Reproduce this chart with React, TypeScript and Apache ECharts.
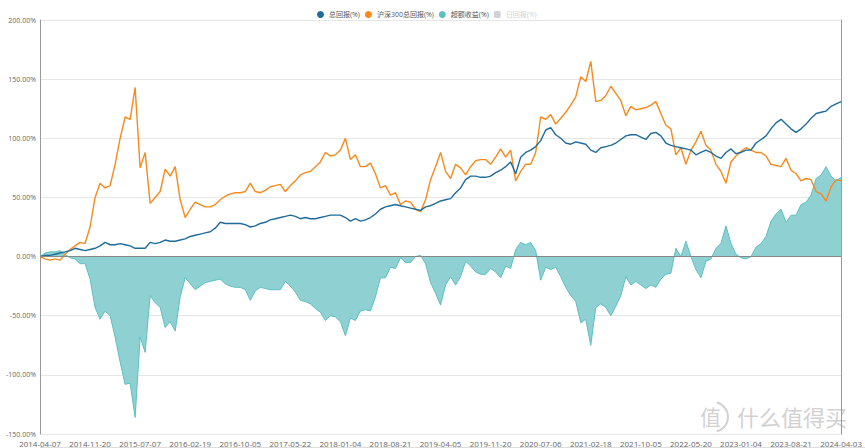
import React, { useEffect, useRef } from 'react';
import * as echarts from 'echarts';

const tickLabels = [
  '2014-04-07', '2014-11-20', '2015-07-07', '2016-02-19', '2016-10-05', '2017-05-22',
  '2018-01-04', '2018-08-21', '2019-04-05', '2019-11-20', '2020-07-06', '2021-02-18',
  '2021-10-05', '2022-05-20', '2023-01-04', '2023-08-21', '2024-04-03',
];

const totalReturn = [
  0, 1, 1, 2, 3, 4, 5, 7, 6, 5,
  6, 7, 9, 12, 10, 10, 11, 10, 9, 7,
  7, 7, 12, 11, 12, 14, 13, 13, 14, 15,
  17, 18, 19, 20, 21, 24, 29, 28, 28, 28,
  28, 27, 25, 26, 28, 29, 31, 32, 33, 34,
  35, 34, 32, 33, 32, 32, 33, 34, 35, 35,
  35, 33, 30, 32, 30, 31, 33, 36, 40, 42,
  43, 44, 43, 42, 41, 40, 39, 42, 43, 45,
  47, 48, 49, 54, 58, 65, 68, 68, 67, 67,
  68, 71, 73, 76, 80, 70, 84, 88, 90, 93,
  98, 107, 109, 103, 100, 96, 95, 97, 96, 95,
  90, 88, 92, 93, 94, 96, 99, 102, 103, 103,
  101, 99, 104, 105, 102, 96, 94, 93, 92, 91,
  90, 86, 88, 90, 88, 85, 83, 88, 91, 87,
  88, 90, 90, 96, 99, 102, 108, 113, 116, 112,
  108, 105, 108, 112, 117, 121, 122, 123, 127, 129,
  131,
];

const csi300Return = [
  0, -2, -3, -2, -3, 2, 6, 9, 12, 11,
  25, 50, 62, 58, 60, 78, 100, 118, 116, 143,
  75, 88, 45, 50, 55, 74, 68, 76, 48, 33,
  40, 46, 44, 42, 42, 44, 48, 51, 53, 54,
  54, 55, 62, 55, 54, 56, 59, 60, 61, 55,
  60, 64, 69, 71, 72, 76, 80, 88, 85, 86,
  90, 100, 82, 86, 76, 76, 79, 70, 58, 60,
  52, 54, 44, 47, 46, 40, 38, 48, 65, 76,
  88, 72, 66, 78, 75, 69, 76, 81, 82, 82,
  78, 84, 91, 84, 90, 64, 72, 78, 78, 88,
  118, 116, 120, 112, 117, 122, 128, 135, 152, 148,
  165, 131, 132, 136, 144, 138, 132, 119, 127, 124,
  125, 126, 128, 131, 121, 111, 108, 86, 92, 78,
  90, 97, 106, 94, 90, 78, 72, 62, 80, 85,
  89, 92, 90, 88, 88, 85, 78, 77, 76, 83,
  73, 70, 64, 66, 65, 55, 53, 47, 59, 65,
  64,
];

const excessReturn = [
  0, 3, 4, 4, 5, 2, -1, -2, -6, -6,
  -19, -43, -53, -46, -50, -68, -89, -108, -107, -136,
  -68, -81, -33, -39, -43, -60, -55, -63, -34, -18,
  -23, -28, -25, -22, -21, -20, -19, -23, -25, -26,
  -26, -28, -37, -29, -26, -27, -28, -28, -28, -21,
  -25, -30, -37, -38, -40, -44, -47, -54, -50, -51,
  -55, -67, -52, -54, -46, -45, -46, -34, -18, -18,
  -9, -10, -1, -5, -5, 0, 1, -6, -22, -31,
  -41, -24, -17, -24, -17, -4, -8, -13, -15, -15,
  -10, -13, -18, -8, -10, 6, 12, 10, 12, 5,
  -20, -9, -11, -9, -17, -26, -33, -38, -56, -53,
  -75, -43, -40, -43, -50, -42, -33, -17, -24, -21,
  -24, -27, -24, -26, -19, -15, -14, 7, 0, 13,
  0, -11, -18, -4, -2, 7, 11, 26, 11, 2,
  -1, -2, 0, 8, 11, 17, 30, 36, 40, 29,
  35, 35, 44, 46, 52, 66, 69, 76, 68, 64,
  67,
];

const dailyReturn: number[] = [];

const seriesNames = ['总回报(%)', '沪深300总回报(%)', '超额收益(%)', '日回报(%)'];

function buildDates(): string[] {
  const out: string[] = [];
  const steps = 10;
  for (let k = 0; k < tickLabels.length - 1; k++) {
    const a = Date.parse(tickLabels[k]);
    const b = Date.parse(tickLabels[k + 1]);
    for (let j = 0; j < steps; j++) {
      if (j === 0) out.push(tickLabels[k]);
      else out.push(new Date(a + ((b - a) * j) / steps).toISOString().slice(0, 10));
    }
  }
  out.push(tickLabels[tickLabels.length - 1]);
  return out;
}

const FONT = '"Open Sans", "Noto Sans CJK SC", sans-serif';

export default function App() {
  const ref = useRef<HTMLDivElement>(null);
  useEffect(() => {
    const chart = echarts.init(ref.current!, null, { renderer: 'svg' });
    const dates = buildDates();
    chart.setOption({
      animation: false,
      backgroundColor: '#ffffff',
      textStyle: { fontFamily: FONT },
      legend: {
        top: 6,
        left: 312,
        itemWidth: 7,
        itemHeight: 7,
        itemGap: 5,
        textStyle: { fontSize: 7, color: '#555', fontFamily: FONT },
        data: [
          { name: seriesNames[0], icon: 'circle' },
          { name: seriesNames[1], icon: 'circle' },
          { name: seriesNames[2], icon: 'circle' },
          { name: seriesNames[3], icon: 'roundRect' },
        ],
        selected: { [seriesNames[3]]: false },
      },
      grid: { left: 40, right: 20, top: 20, bottom: 14, containLabel: false },
      xAxis: {
        type: 'category',
        boundaryGap: false,
        data: dates,
        axisLine: { show: false },
        axisTick: { show: false },
        splitLine: { show: false },
        axisLabel: { interval: 9, fontSize: 8, color: '#666', margin: 5, fontFamily: FONT },
      },
      yAxis: [
        {
          type: 'value',
          min: -150,
          max: 200,
          interval: 50,
          axisLine: { show: true, lineStyle: { color: '#999' } },
          axisTick: { show: false },
          axisLabel: {
            fontSize: 7,
            color: '#666',
            margin: 4,
            fontFamily: FONT,
            formatter: (v: number) => v.toFixed(2) + '%',
          },
          splitLine: { lineStyle: { color: '#e6e6e6' } },
        },
        {
          type: 'value',
          position: 'right',
          min: -10,
          max: 10,
          axisLine: { show: true, lineStyle: { color: '#999' } },
          axisTick: { show: false },
          axisLabel: { show: false },
          splitLine: { show: false },
        },
      ],
      series: [
        {
          name: seriesNames[2],
          type: 'line',
          data: excessReturn,
          symbol: 'none',
          lineStyle: { color: '#5cbfc1', width: 1 },
          itemStyle: { color: '#5cbfc1' },
          areaStyle: { color: '#8fd1d2', opacity: 1 },
          markLine: {
            silent: true,
            symbol: ['none', 'none'],
            label: { show: false },
            lineStyle: { color: '#888', type: 'solid', width: 1 },
            data: [{ yAxis: 0 }],
          },
          z: 1,
        },
        {
          name: seriesNames[0],
          type: 'line',
          data: totalReturn,
          symbol: 'none',
          lineStyle: { color: '#1f6c9b', width: 1.4 },
          itemStyle: { color: '#1f6c9b' },
          z: 3,
        },
        {
          name: seriesNames[1],
          type: 'line',
          data: csi300Return,
          symbol: 'none',
          lineStyle: { color: '#f7891d', width: 1.4 },
          itemStyle: { color: '#f7891d' },
          z: 2,
        },
        {
          name: seriesNames[3],
          type: 'bar',
          yAxisIndex: 1,
          data: dailyReturn,
          itemStyle: { color: '#aaa' },
        },
      ],
      graphic: [
        {
          type: 'line',
          shape: { x1: 40, y1: 447.5, x2: 865, y2: 447.5 },
          style: { stroke: '#dddddd', lineWidth: 1 },
          silent: true,
        },
        {
          type: 'text',
          left: 700,
          top: 405,
          style: { text: '值', fontSize: 21, fill: '#d2d2d2', fontFamily: '"Noto Sans CJK SC", sans-serif' },
          silent: true,
        },
        {
          type: 'arc',
          shape: { cx: 713, cy: 417, r: 15, startAngle: -Math.PI * 0.42, endAngle: Math.PI * 0.42 },
          style: { stroke: '#d2d2d2', lineWidth: 2, fill: 'none' },
          silent: true,
        },
        {
          type: 'text',
          left: 737,
          top: 405,
          style: { text: '什么值得买', fontSize: 22, fill: '#d2d2d2', fontFamily: '"Noto Sans CJK SC", sans-serif' },
          silent: true,
        },
      ],
    });
    return () => chart.dispose();
  }, []);
  return <div ref={ref} style={{ position: 'absolute', left: 0, top: 0, width: 865, height: 448 }} />;
}
